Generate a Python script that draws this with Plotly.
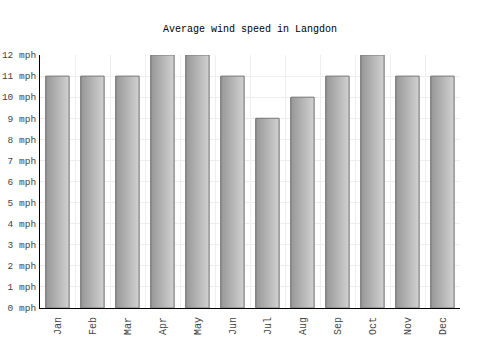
import plotly.graph_objects as go

months = ["Jan", "Feb", "Mar", "Apr", "May", "Jun", "Jul", "Aug", "Sep", "Oct", "Nov", "Dec"]
wind_mph = [11, 11, 11, 12, 12, 11, 9, 10, 11, 12, 11, 11]
y_ticks = list(range(0, 13))
y_labels = [f"{v} mph" for v in y_ticks]

FONT = "Liberation Mono"
bar_w = 0.66
n_slices = 24
c0 = (150, 150, 150)
c1 = (208, 208, 208)

fig = go.Figure()
sw = bar_w / n_slices
for i in range(n_slices):
    t = i / (n_slices - 1)
    col = tuple(round(a + (b - a) * t) for a, b in zip(c0, c1))
    fig.add_trace(go.Bar(
        x=months, y=wind_mph, width=sw * 1.05, offset=-bar_w / 2 + i * sw,
        marker=dict(color=f"rgb{col}", line=dict(width=0)),
        hoverinfo="skip", showlegend=False,
    ))
fig.add_trace(go.Bar(
    x=months, y=wind_mph, width=bar_w, offset=-bar_w / 2,
    marker=dict(color="rgba(0,0,0,0)", line=dict(color="#7a7a7a", width=1)),
    showlegend=False,
))

fig.update_layout(
    width=500, height=350,
    margin=dict(l=40, r=40, t=55, b=42),
    barmode="overlay",
    plot_bgcolor="white", paper_bgcolor="white",
    title=dict(text="Average wind speed in Langdon", x=0.5, xanchor="center",
               y=1 - 28 / 350, yanchor="middle",
               font=dict(family=FONT, size=10, color="#000")),
    font=dict(family=FONT, size=10, color="#444"),
    xaxis=dict(type="category", tickson="boundaries", showgrid=True, gridcolor="#eeeeee",
               tickangle=-90, ticks="", showline=True, linecolor="#000", linewidth=1,
               automargin=False, ticklabelstandoff=4,
               range=[-0.5, 11.5], tickfont=dict(family=FONT, size=10, color="#444")),
    yaxis=dict(range=[0, 12], tickvals=y_ticks, ticktext=y_labels, showgrid=True,
               gridcolor="#eeeeee", showline=True, linecolor="#000", linewidth=1,
               automargin=False, ticklabelstandoff=1,
               ticks="", zeroline=False, tickfont=dict(family=FONT, size=9.5, color="#444")),
)
fig.write_html("out.html")
